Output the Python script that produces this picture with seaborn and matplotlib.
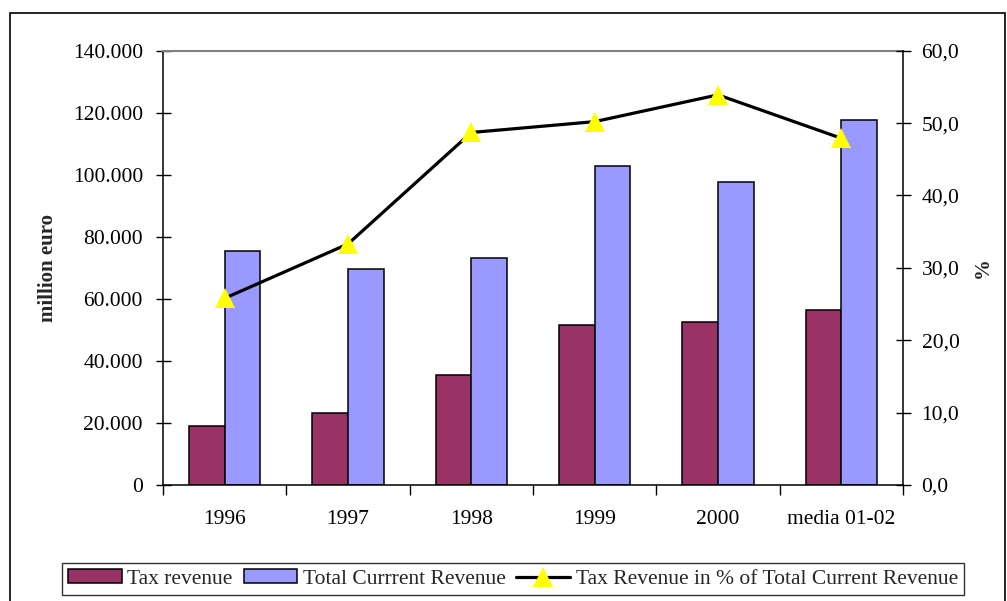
"""Tax revenue vs total current revenue, bars + share line on a twin axis."""
import numpy as np
import pandas as pd
import matplotlib
matplotlib.use("Agg")
import matplotlib.pyplot as plt
from matplotlib.patches import Patch, Rectangle
from matplotlib.lines import Line2D
from matplotlib.ticker import FixedLocator
import seaborn as sns

# data
categories = ["1996", "1997", "1998", "1999", "2000", "media 01-02"]
tax_revenue = [19100, 23300, 35600, 51500, 52600, 56300]
total_revenue = [75400, 69500, 73100, 102900, 97800, 117700]
tax_share_pct = [25.8, 33.3, 48.7, 50.2, 53.9, 47.9]

series_names = ["Tax revenue", "Total Currrent Revenue"]
line_name = "Tax Revenue in % of Total Current Revenue"

left_ticks = [0, 20000, 40000, 60000, 80000, 100000, 120000, 140000]
left_labels = ["0", "20.000", "40.000", "60.000", "80.000", "100.000", "120.000", "140.000"]
right_ticks = [0, 10, 20, 30, 40, 50, 60]
right_labels = ["0,0", "10,0", "20,0", "30,0", "40,0", "50,0", "60,0"]

TAX_COLOR = "#993366"
TOTAL_COLOR = "#9999FF"
FS = 15.5

sns.set_theme(style="white")
plt.rcParams["font.family"] = ["Liberation Serif", "DejaVu Serif"]

df = pd.DataFrame({
    "year": categories * 2,
    "value": tax_revenue + total_revenue,
    "series": [series_names[0]] * len(categories) + [series_names[1]] * len(categories),
})

W, H = 1007, 601
fig = plt.figure(figsize=(W / 100, H / 100), dpi=100)
ax = fig.add_axes([163 / W, 1 - 485 / H, 740 / W, (485 - 50.7) / H])

sns.barplot(data=df, x="year", y="value", hue="series",
            palette=[TAX_COLOR, TOTAL_COLOR], saturation=1, width=0.576,
            edgecolor="black", linewidth=1.1, legend=False, ax=ax)

ax.set_xlim(-0.5, len(categories) - 0.5)
ax.set_ylim(0, 140000)
ax.yaxis.set_major_locator(FixedLocator(left_ticks))
ax.set_yticklabels(left_labels)
ax.set_xlabel("")
ax.set_ylabel("million euro", fontsize=15, fontweight="bold")
ax.yaxis.set_label_coords((58 - 163) / 740, 0.5)

# x ticks: labels at centres, marks at category boundaries
ax.set_xticks(np.arange(len(categories)))
ax.set_xticklabels(categories)
ax.set_xticks(np.arange(len(categories) + 1) - 0.5, minor=True)
ax.tick_params(axis="x", which="major", length=0, pad=18, labelsize=FS, colors="black")
ax.tick_params(axis="x", which="minor", direction="out", length=7.5, width=1, color="black", bottom=True)
ax.tick_params(axis="y", direction="inout", length=10.8, width=1, pad=9,
               labelsize=FS, color="black", labelcolor="black", left=True)

for name, sp in ax.spines.items():
    sp.set_visible(True)
    sp.set_linewidth(1.1)
    sp.set_color("black")
ax.spines["top"].set_color("#808080")
ax.spines["top"].set_linewidth(1.5)
ax.spines["right"].set_visible(False)

# share line on the right axis
ax2 = ax.twinx()
sns.lineplot(x=np.arange(len(categories)), y=tax_share_pct, ax=ax2, color="black",
             linewidth=2.3, marker="^", markersize=14.5, markerfacecolor="yellow",
             markeredgewidth=0, sort=False)
ax2.set_ylim(0, 60)
ax2.yaxis.set_major_locator(FixedLocator(right_ticks))
ax2.set_yticklabels(right_labels)
ax2.set_ylabel("%", fontsize=15, fontweight="bold", rotation=90)
ax2.yaxis.set_label_coords((973 - 163) / 740, 0.5)
ax2.tick_params(axis="y", direction="inout", length=10.8, width=1, pad=8,
                labelsize=FS, color="black", labelcolor="black", right=True)
ax2.grid(False)
ax.grid(False)
for name, sp in ax2.spines.items():
    sp.set_visible(name == "right")
ax2.spines["right"].set_color("black")
ax2.spines["right"].set_linewidth(1.1)
ax.set_xlim(-0.5, len(categories) - 0.5)

# outer chart frame (runs past the bottom of the picture)
fig.patches.append(Rectangle((10 / W, -0.1), (1005 - 10) / W, 1 - 13 / H + 0.1,
                             transform=fig.transFigure, fill=False,
                             edgecolor="black", linewidth=1.2, zorder=0))

handles = [
    Patch(facecolor=TAX_COLOR, edgecolor="black", linewidth=1.1, label=series_names[0]),
    Patch(facecolor=TOTAL_COLOR, edgecolor="black", linewidth=1.1, label=series_names[1]),
    Line2D([], [], color="black", linewidth=2.3, marker="^", markersize=14,
           markerfacecolor="yellow", markeredgewidth=0, label=line_name),
]
leg = fig.legend(handles=handles, loc="center", bbox_to_anchor=(513 / W, 1 - 579 / H),
                 ncol=3, fontsize=FS, frameon=True, fancybox=False, shadow=False,
                 handlelength=2.5, handleheight=0.65, handletextpad=0.25,
                 columnspacing=0.5, borderpad=0.3, borderaxespad=0)
leg.get_frame().set_edgecolor("black")
leg.get_frame().set_linewidth(1.0)

fig.savefig("out.png", dpi=100)
